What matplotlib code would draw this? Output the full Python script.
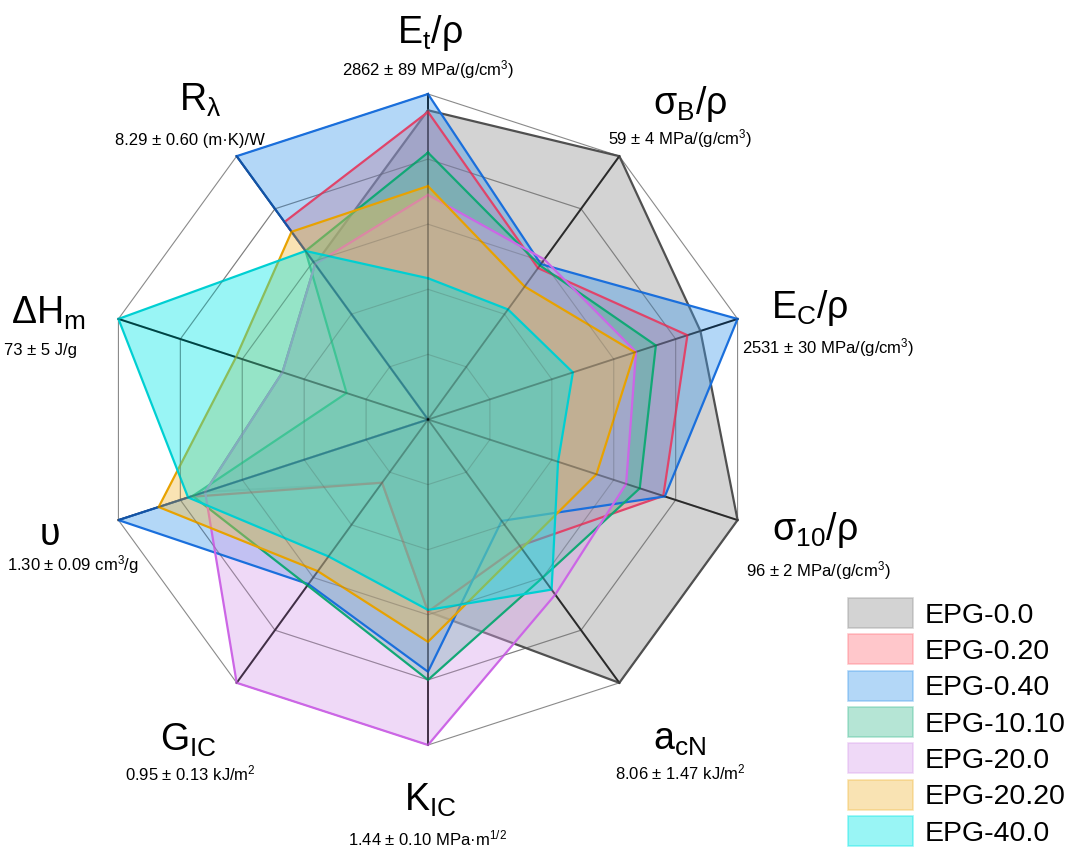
import numpy as np
import matplotlib
matplotlib.use("Agg")
import matplotlib.pyplot as plt
from matplotlib.patches import Patch

plt.rcParams["font.family"] = ["Liberation Sans", "DejaVu Sans"]
plt.rcParams["mathtext.fontset"] = "custom"
plt.rcParams["mathtext.rm"] = "Liberation Sans"
plt.rcParams["mathtext.it"] = "Liberation Sans:italic"
plt.rcParams["mathtext.bf"] = "Liberation Sans:bold"

# ---- data (normalised to the best value of each property) ----
axis_titles = [r"$\mathregular{E_t/ρ}$", r"$\mathregular{σ_B/ρ}$", r"$\mathregular{E_C/ρ}$",
               r"$\mathregular{σ_{10}/ρ}$", r"$\mathregular{a_{cN}}$", r"$\mathregular{K_{IC}}$",
               r"$\mathregular{G_{IC}}$", "υ", r"$\mathregular{ΔH_m}$", r"$\mathregular{R_λ}$"]
axis_maxima = [r"2862 ± 89 MPa/(g/cm$^\mathregular{3}$)", r"59 ± 4 MPa/(g/cm$^\mathregular{3}$)",
               r"2531 ± 30 MPa/(g/cm$^\mathregular{3}$)", r"96 ± 2 MPa/(g/cm$^\mathregular{3}$)",
               r"8.06 ± 1.47 kJ/m$^\mathregular{2}$", r"1.44 ± 0.10 MPa·m$^\mathregular{1/2}$",
               r"0.95 ± 0.13 kJ/m$^\mathregular{2}$", r"1.30 ± 0.09 cm$^\mathregular{3}$/g",
               "73 ± 5 J/g", "8.29 ± 0.60 (m·K)/W"]

series_names = ["EPG-0.0", "EPG-0.20", "EPG-0.40", "EPG-10.10", "EPG-20.0", "EPG-20.20", "EPG-40.0"]
epg_0_0 = [0.95, 1.00, 0.88, 1.00, 1.00, 0.59, 0.24, 0.72, 0.47, 0.59]
epg_0_20 = [0.945, 0.575, 0.838, 0.76, 0.48, 0.59, 0.24, 0.77, 0.0, 0.75]
epg_0_40 = [1.00, 0.59, 1.00, 0.765, 0.385, 0.775, 0.625, 1.00, 0.0, 1.00]
epg_10_10 = [0.82, 0.585, 0.736, 0.684, 0.60, 0.80, 0.63, 0.76, 0.263, 0.64]
epg_20_0 = [0.69, 0.608, 0.672, 0.64, 0.665, 1.00, 1.00, 0.72, 0.47, 0.59]
epg_20_20 = [0.717, 0.505, 0.668, 0.544, 0.49, 0.683, 0.576, 0.87, 0.62, 0.713]
epg_40_0 = [0.434, 0.418, 0.468, 0.42, 0.646, 0.585, 0.52, 0.775, 1.00, 0.64]
series_values = [epg_0_0, epg_0_20, epg_0_40, epg_10_10, epg_20_0, epg_20_20, epg_40_0]

# ---- styling ----
fill_base = ["#919191", "#ff757f", "#419beb", "#46be96", "#d9a0eb", "#f2bb43", "#00e6e6"]
edge_cols = ["#505050", "#e0446a", "#1a6fdc", "#12a876", "#cc66e6", "#e8a200", "#00cfd2"]
fill_alpha = 0.4
# stacking order of fills and outlines
fill_z = [2, 2.1, 2.2, 2.3, 2.4, 4, 6]
edge_z = [2.05, 3.1, 3.2, 3.3, 3.4, 5, 7]

# label anchor positions in pixels (x, y from top-left)
title_px = [(430, 33), (690, 104), (810, 308), (815, 530), (680, 740),
            (430, 800), (188, 740), (50, 535), (48, 313), (200, 100)]
maxima_px = [(428, 70), (680, 139), (828, 348), (818, 571), (680, 772),
             (428, 838), (190, 773), (73, 565), (40, 350), (190, 140)]

W, H = 1068, 848
fig = plt.figure(figsize=(W / 100, H / 100), dpi=100)
cx, cy, R = 428, 419.5, 325.5
ax = fig.add_axes([(cx - R) / W, (H - cy - R) / H, 2 * R / W, 2 * R / H], projection="polar")
ax.set_theta_zero_location("N")
ax.set_theta_direction(-1)
ax.set_ylim(0, 1)
ax.set_axis_off()

n = len(axis_titles)
theta = np.linspace(0, 2 * np.pi, n, endpoint=False)
theta_c = np.append(theta, theta[0])

# decagonal grid rings and spokes
rings = [0.2, 0.4, 0.6, 0.8, 1.0]
for rr in rings:
    ax.plot(theta_c, np.full(n + 1, rr), color="#8a8a8a", lw=0.8, zorder=1, clip_on=False)
for t in theta:
    ax.plot([t, t], [0, 1], color="black", lw=1.4, zorder=1, clip_on=False)

for i, vals in enumerate(series_values):
    v = np.append(vals, vals[0])
    ax.fill(theta_c, v, facecolor=fill_base[i], alpha=fill_alpha, edgecolor="none",
            zorder=fill_z[i], clip_on=False)
    ax.plot(theta_c, v, color=edge_cols[i], lw=1.6, zorder=edge_z[i], clip_on=False,
            solid_joinstyle="miter")

# faint overlay so the grid stays visible through stacked fills
for rr in rings[:-1]:
    ax.plot(theta_c, np.full(n + 1, rr), color="#404040", lw=0.8, alpha=0.18, zorder=20)
for t in theta:
    ax.plot([t, t], [0, 1], color="black", lw=1.3, alpha=0.25, zorder=20, clip_on=False)

for (x, y), s in zip(title_px, axis_titles):
    fig.text(x / W, 1 - y / H, s, fontsize=27, ha="center", va="center")
for (x, y), s in zip(maxima_px, axis_maxima):
    fig.text(x / W, 1 - y / H, s, fontsize=12, ha="center", va="center")

handles = [Patch(facecolor=fill_base[i], alpha=fill_alpha, edgecolor=fill_base[i], lw=1.2)
           for i in range(len(series_names))]
fig.legend(handles, series_names, loc="upper left", bbox_to_anchor=(848 / W, 1 - 598 / H),
           frameon=False, fontsize=20.5, handlelength=2.3, handleheight=1.25,
           handletextpad=0.4, labelspacing=0.2, borderpad=0, borderaxespad=0)

fig.savefig("out.png", dpi=100)
